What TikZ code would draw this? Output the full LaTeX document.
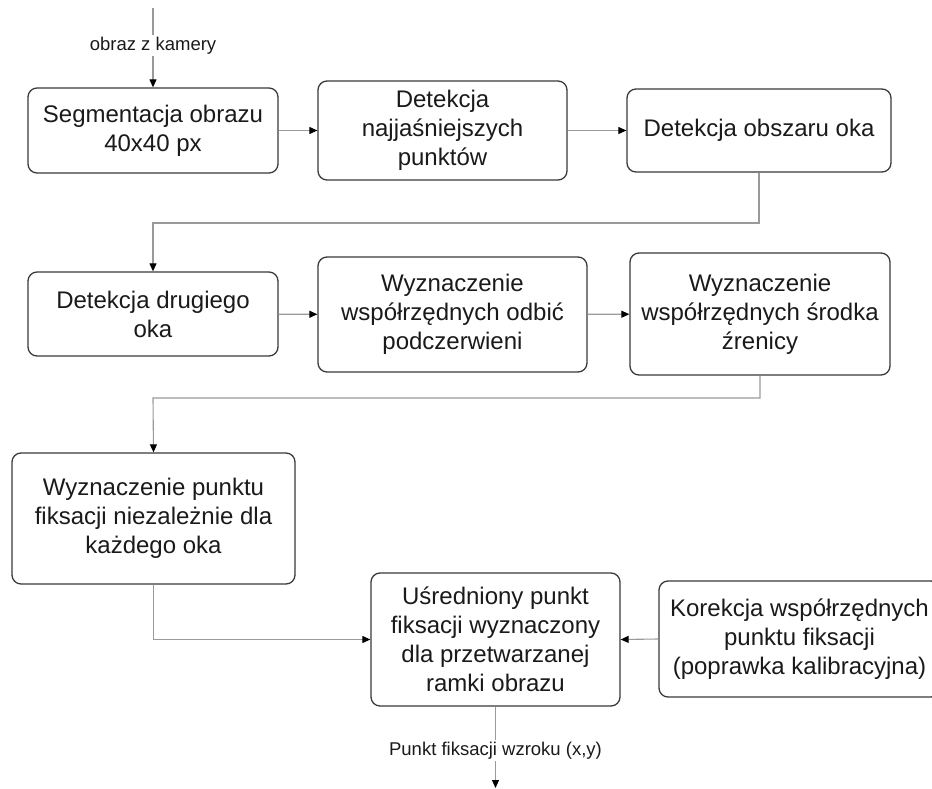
\documentclass[tikz,border=0pt]{standalone}
\usepackage{fontspec}
\setmainfont{Liberation Sans}
\usetikzlibrary{arrows.meta}
\definecolor{boxline}{HTML}{3A3A3A}
\definecolor{connline}{HTML}{9A9A9A}
\definecolor{txt}{HTML}{1A1A1A}
\tikzset{
  stepbox/.style={draw=boxline, line width=1.3pt, rounded corners=9pt, fill=white,
    align=center, inner sep=0pt, text=txt, font=\fontsize{24}{29}\selectfont},
  conn/.style={draw=connline, line width=1.1pt,
    -{Triangle[length=8pt,width=7pt,fill=black,color=black]}},
  plainconn/.style={draw=connline, line width=1.1pt},
  flowlabel/.style={fill=white, inner sep=2pt, text=txt, font=\fontsize{18.5}{22}\selectfont}
}
\begin{document}
\begin{tikzpicture}[x=1pt,y=-1pt]
\clip (0,0) rectangle (932,789);
\fill[white] (0,0) rectangle (932,789);

\node[stepbox, minimum width=250pt, minimum height=85pt] (b1) at (153,130.5) {Segmentacja obrazu\\40x40 px};
\node[stepbox, minimum width=249pt, minimum height=99pt] (b2) at (442.5,130.5) {Detekcja\\najjaśniejszych\\punktów};
\node[stepbox, minimum width=264pt, minimum height=83pt] (b3) at (759,130.5) {Detekcja obszaru oka};

\node[stepbox, minimum width=250pt, minimum height=84pt] (b4) at (153,314) {Detekcja drugiego\\oka};
\node[stepbox, minimum width=269pt, minimum height=115pt] (b5) at (452.5,314.5) {Wyznaczenie\\współrzędnych odbić\\podczerwieni};
\node[stepbox, minimum width=260pt, minimum height=122pt] (b6) at (760,314) {Wyznaczenie\\współrzędnych środka\\źrenicy};

\node[stepbox, minimum width=283pt, minimum height=131pt] (b7) at (153.5,518.5) {Wyznaczenie punktu\\fiksacji niezależnie dla\\każdego oka};
\node[stepbox, minimum width=249pt, minimum height=133pt] (b8) at (495.5,639.5) {Uśredniony punkt\\fiksacji wyznaczony\\dla przetwarzanej\\ramki obrazu};
\node[stepbox, minimum width=281pt, minimum height=116pt] (b9) at (799.5,639) {Korekcja współrzędnych\\punktu fiksacji\\(poprawka kalibracyjna)};

\coordinate (in) at (153,8);
\coordinate (out) at (495.5,788);
\coordinate (k1) at (153,223);
\coordinate (k2) at (153,398);

\draw[conn] (in) -- node[flowlabel, pos=0.47] {obraz z kamery} (b1.north);
\draw[conn] (b1) -- (b2);
\draw[conn] (b2) -- (b3);
\draw[conn] (b3.south) |- (k1) -- (b4.north);
\draw[conn] (b4) -- (b5);
\draw[conn] (b5) -- (b6);
\draw[conn] (b6.south) |- (k2) -- (b7.north);
\draw[conn] (b7.south) |- (b8.west);
\draw[conn] (b9.west) -- (b8.east);
\draw[conn] (b8.south) -- node[flowlabel, pos=0.54] {Punkt fiksacji wzroku (x,y)} (out);
\end{tikzpicture}
\end{document}
